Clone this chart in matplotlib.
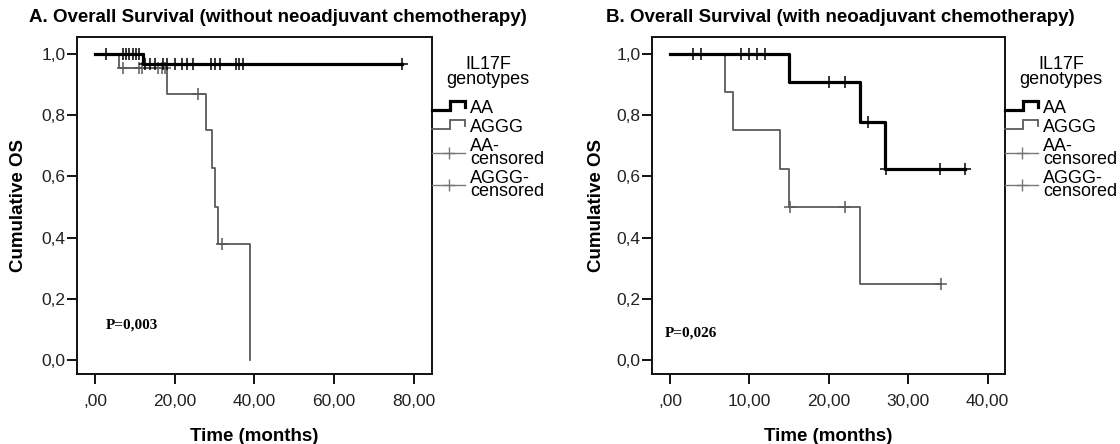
import matplotlib
matplotlib.use('Agg')
import numpy as np
import matplotlib.pyplot as plt
from matplotlib.lines import Line2D
from matplotlib.legend_handler import HandlerBase

plt.rcParams['font.family'] = ['Liberation Sans', 'DejaVu Sans']

# ---------------- data ----------------
group_labels = ['AA', 'AGGG', 'AA-\ncensored', 'AGGG-\ncensored']
legend_title = 'IL17F\ngenotypes'

# Panel A (without neoadjuvant chemotherapy)
a_title = 'A. Overall Survival (without neoadjuvant chemotherapy)'
a_p_text = 'P=0,003'
a_aa_time = [0, 12.1, 77.0]
a_aa_surv = [1.0, 0.967, 0.967]
a_aa_cens = [2.8, 6.9, 7.8, 8.6, 9.5, 10.3, 11.1, 12.5, 13.8, 15.1, 17.0, 18.1,
             20.1, 21.9, 23.2, 24.5, 29.0, 30.1, 31.4, 35.4, 36.2, 37.1, 77.0]
a_ag_time = [0, 6.1, 18.1, 27.8, 29.3, 30.0, 30.9, 38.9]
a_ag_surv = [1.0, 0.954, 0.87, 0.75, 0.627, 0.50, 0.379, 0.0]
a_ag_cens = [6.9, 11.0, 11.9, 15.9, 16.7, 17.6, 25.9, 31.8]
a_xticks = [0, 20, 40, 60, 80]
a_xticklabels = [',00', '20,00', '40,00', '60,00', '80,00']

# Panel B (with neoadjuvant chemotherapy)
b_title = 'B. Overall Survival (with neoadjuvant chemotherapy)'
b_p_text = 'P=0,026'
b_aa_time = [0, 15.0, 23.9, 27.1, 37.2]
b_aa_surv = [1.0, 0.909, 0.779, 0.623, 0.623]
b_aa_cens = [2.9, 3.9, 8.9, 9.9, 10.9, 12.0, 20.0, 22.0, 25.0, 27.2, 34.0, 37.2]
b_ag_time = [0, 6.9, 8.0, 13.9, 15.0, 23.9, 34.2]
b_ag_surv = [1.0, 0.875, 0.75, 0.625, 0.50, 0.25, 0.25]
b_ag_cens = [15.1, 22.0, 34.2]
b_xticks = [0, 10, 20, 30, 40]
b_xticklabels = [',00', '10,00', '20,00', '30,00', '40,00']

yticks = [0.0, 0.2, 0.4, 0.6, 0.8, 1.0]
yticklabels = ['0,0', '0,2', '0,4', '0,6', '0,8', '1,0']

AA_COLOR = 'black'
AG_COLOR = '#5a5a5a'


def surv_at(times, surv, t):
    idx = np.searchsorted(times, t, side='right') - 1
    return surv[max(idx, 0)]


class StepHandler(HandlerBase):
    def create_artists(self, legend, orig_handle, xdescent, ydescent,
                       width, height, fontsize, trans):
        x0 = -xdescent
        y0 = -ydescent
        xs = [x0, x0 + 0.55 * width, x0 + 0.55 * width, x0 + width, x0 + width]
        ys = [y0 + 0.25 * height, y0 + 0.25 * height, y0 + 0.95 * height,
              y0 + 0.95 * height, y0 + 0.5 * height]
        ln = Line2D(xs, ys, color=orig_handle.get_color(),
                    lw=orig_handle.get_linewidth(), solid_joinstyle='miter')
        ln.set_transform(trans)
        return [ln]


def draw_panel(ax, aa_t, aa_s, aa_c, ag_t, ag_s, ag_c, xlim, xticks, xticklabels,
               p_text, p_pos, ylabel_x):
    ax.step(ag_t, ag_s, where='post', color=AG_COLOR, lw=1.3, zorder=2)
    ax.plot(ag_c, [surv_at(ag_t, ag_s, t) for t in ag_c], ls='none', marker='+',
            ms=8, mew=1.1, color=AG_COLOR, zorder=3)
    ax.step(aa_t, aa_s, where='post', color=AA_COLOR, lw=2.3, zorder=4)
    ax.plot(aa_c, [surv_at(aa_t, aa_s, t) for t in aa_c], ls='none', marker='+',
            ms=8, mew=1.1, color=AA_COLOR, zorder=5)

    ax.set_xlim(*xlim)
    ax.set_ylim(-0.045, 1.055)
    ax.set_xticks(xticks)
    ax.set_xticklabels(xticklabels)
    ax.set_yticks(yticks)
    ax.set_yticklabels(yticklabels)
    ax.tick_params(axis='both', direction='out', length=7, width=1.4,
                   labelsize=12.5, color='#111111', labelcolor='#222222')
    ax.tick_params(axis='x', pad=7)
    ax.tick_params(axis='y', pad=1)
    for sp in ax.spines.values():
        sp.set_linewidth(1.4)
        sp.set_color('#111111')

    ax.set_xlabel('Time (months)', fontsize=13.5, fontweight='bold')
    ax.xaxis.set_label_coords(0.5, -0.184)
    ax.xaxis.label.set_verticalalignment('center')
    ax.set_ylabel('Cumulative OS', fontsize=13.5, fontweight='bold')
    ax.yaxis.set_label_coords(ylabel_x, 0.5)
    ax.yaxis.label.set_verticalalignment('center')

    ax.text(p_pos[0], p_pos[1], p_text, transform=ax.transAxes, ha='left', va='center',
            fontsize=11, fontweight='bold', family=['Liberation Serif', 'DejaVu Serif'])

    h_aa = Line2D([], [], color=AA_COLOR, lw=2.3)
    h_ag = Line2D([], [], color=AG_COLOR, lw=1.3)
    h_aac = Line2D([], [], color='#777777', lw=1.0, marker='+', ms=9, mew=1.0)
    h_agc = Line2D([], [], color='#777777', lw=1.0, marker='+', ms=9, mew=1.0)
    leg = ax.legend([h_aa, h_ag, h_aac, h_agc], group_labels, title=legend_title,
                    loc='upper left', bbox_to_anchor=(1.0, 0.942), frameon=False,
                    borderaxespad=0, borderpad=0, handlelength=1.85,
                    handletextpad=0.25, labelspacing=0.1, numpoints=1,
                    fontsize=13, title_fontsize=13,
                    handler_map={h_aa: StepHandler(), h_ag: StepHandler()})
    for t in leg.get_texts():
        t.set_linespacing(0.72)
    leg.get_title().set_linespacing(0.8)
    leg.get_title().set_multialignment('center')
    leg._legend_box.sep = 9
    return leg


fig = plt.figure(figsize=(11.2, 4.44), dpi=100)
ax_a = fig.add_axes([0.0685, 0.157, 0.3172, 0.760])
ax_b = fig.add_axes([0.5819, 0.157, 0.3154, 0.760])

draw_panel(ax_a, a_aa_time, a_aa_surv, a_aa_cens, a_ag_time, a_ag_surv, a_ag_cens,
           (-4.6, 84.6), a_xticks, a_xticklabels, a_p_text, (0.0825, 0.145), -0.165)
draw_panel(ax_b, b_aa_time, b_aa_surv, b_aa_cens, b_ag_time, b_ag_surv, b_ag_cens,
           (-2.3, 42.2), b_xticks, b_xticklabels, b_p_text, (0.0376, 0.123), -0.155)

fig.text(278 / 1120, 1 - 17 / 444, a_title, ha='center', va='center',
         fontsize=13.5, fontweight='bold')
fig.text(840 / 1120, 1 - 17 / 444, b_title, ha='center', va='center',
         fontsize=13.5, fontweight='bold')

fig.savefig('out.png', dpi=100)
